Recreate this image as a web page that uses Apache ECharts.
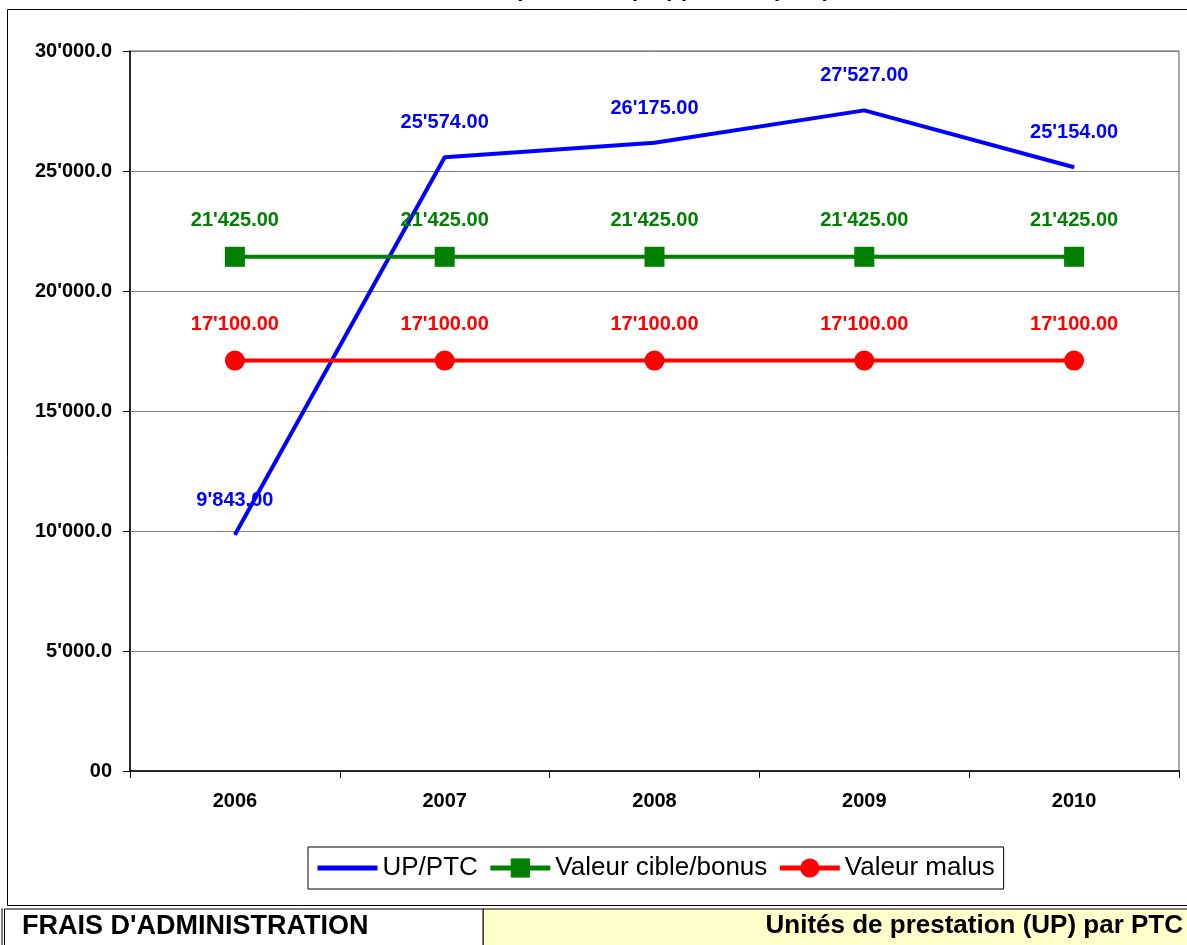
<!DOCTYPE html>
<html>
<head>
<meta charset="utf-8">
<script src="https://cdn.jsdelivr.net/npm/echarts@6/dist/echarts.min.js"></script>
<style>
  html, body { margin: 0; padding: 0; background: #fff; }
  #chart { width: 1187px; height: 945px; }
</style>
</head>
<body>
<div id="chart"></div>
<script>
  // data
  var years = ['2006', '2007', '2008', '2009', '2010']
  var upPtc = [9843, 25574, 26175, 27527, 25154]
  var cibleBonus = [21425, 21425, 21425, 21425, 21425]
  var malus = [17100, 17100, 17100, 17100, 17100]
  var seriesNames = ['UP/PTC', 'Valeur cible/bonus', 'Valeur malus']

  var FONT = '"Liberation Sans", Arial, sans-serif'

  // 12345.6 -> 12'345.60 (swiss style)
  function swiss (v, dec) {
    var s = v.toFixed(dec).split('.')
    var int = s[0].replace(/\B(?=(\d{3})+(?!\d))/g, "'")
    return dec ? int + '.' + s[1] : int
  }

  function labelCfg (color, dist) {
    return {
      show: true,
      position: 'top',
      distance: dist,
      color: color,
      fontFamily: FONT,
      fontWeight: 'bold',
      fontSize: 20,
      formatter: function (p) { return swiss(p.value, 2) }
    }
  }

  var myChart = echarts.init(document.getElementById('chart'))

  var option = {
    animation: false,
    textStyle: { fontFamily: FONT },
    grid: {
      left: 130,
      right: 8,
      top: 51,
      bottom: 174,
      show: true,
      borderColor: '#555',
      borderWidth: 1
    },
    legend: {
      data: [
        { name: seriesNames[0], itemStyle: { opacity: 0 } },
        { name: seriesNames[1] },
        { name: seriesNames[2] }
      ],
      left: 308,
      top: 847,
      padding: [8, 9, 8, 7],
      borderColor: '#000',
      borderWidth: 1,
      itemWidth: 60,
      itemHeight: 24,
      itemGap: 10,
      lineStyle: { width: 5 },
      textStyle: { fontFamily: FONT, fontSize: 26, color: '#000' }
    },
    xAxis: {
      type: 'category',
      data: years,
      boundaryGap: true,
      axisLine: { lineStyle: { color: '#000', width: 1.5 } },
      axisTick: { show: true, length: 7, lineStyle: { color: '#000' } },
      axisLabel: { margin: 20, color: '#000', fontFamily: FONT, fontWeight: 'bold', fontSize: 20 }
    },
    yAxis: {
      type: 'value',
      min: 0,
      max: 30000,
      interval: 5000,
      axisLine: { show: true, lineStyle: { color: '#000', width: 1.5 } },
      axisTick: { show: true, length: 7, lineStyle: { color: '#000' } },
      axisLabel: {
        margin: 18,
        color: '#000',
        fontFamily: FONT,
        fontWeight: 'bold',
        fontSize: 20,
        formatter: function (v) { return v === 0 ? '00' : swiss(v, 1) }
      },
      splitLine: { lineStyle: { color: '#808080', width: 1 } }
    },
    series: [
      {
        name: seriesNames[0],
        type: 'line',
        data: upPtc,
        symbol: 'circle',
        symbolSize: 1,
        color: '#0000ff',
        lineStyle: { width: 4, color: '#0000ff' },
        label: labelCfg('#0000ff', 24)
      },
      {
        name: seriesNames[1],
        type: 'line',
        data: cibleBonus,
        symbol: 'rect',
        symbolSize: 20,
        color: '#008000',
        itemStyle: { color: '#008000' },
        lineStyle: { width: 4, color: '#008000' },
        label: labelCfg('#008000', 16)
      },
      {
        name: seriesNames[2],
        type: 'line',
        data: malus,
        symbol: 'circle',
        symbolSize: 20,
        color: '#ff0000',
        itemStyle: { color: '#ff0000' },
        lineStyle: { width: 4, color: '#ff0000' },
        label: labelCfg('#ff0000', 16)
      }
    ],
    graphic: [
      // cut-off title at the very top
      {
        type: 'text', left: 612 - 200, top: -21, z: 10,
        style: { text: 'Unités de prestation (UP) par PTC (FAD)', font: 'bold 22px ' + FONT, fill: '#000' }
      },
      // outer frame of the chart
      {
        type: 'rect', z: -1,
        shape: { x: 7.5, y: 9.5, width: 1200, height: 896 },
        style: { fill: 'none', stroke: '#000', lineWidth: 1 }
      },
      // bottom table
      {
        type: 'rect',
        shape: { x: 483, y: 909, width: 720, height: 40 },
        style: { fill: '#ffffcc', stroke: '#000', lineWidth: 1 }
      },
      {
        type: 'rect',
        shape: { x: 4.5, y: 909, width: 478.5, height: 40 },
        style: { fill: '#fff', stroke: '#000', lineWidth: 1 }
      },
      {
        type: 'line',
        shape: { x1: 2, y1: 908, x2: 2, y2: 945 },
        style: { stroke: '#000', lineWidth: 1 }
      },
      {
        type: 'text', left: 22, top: 913,
        style: { text: "FRAIS D'ADMINISTRATION", font: 'bold 27px ' + FONT, fill: '#000' }
      },
      {
        type: 'text', right: 4, top: 913,
        style: { text: 'Unités de prestation (UP) par PTC', font: 'bold 26px ' + FONT, fill: '#000' }
      }
    ]
  }

  myChart.setOption(option)
</script>
</body>
</html>
